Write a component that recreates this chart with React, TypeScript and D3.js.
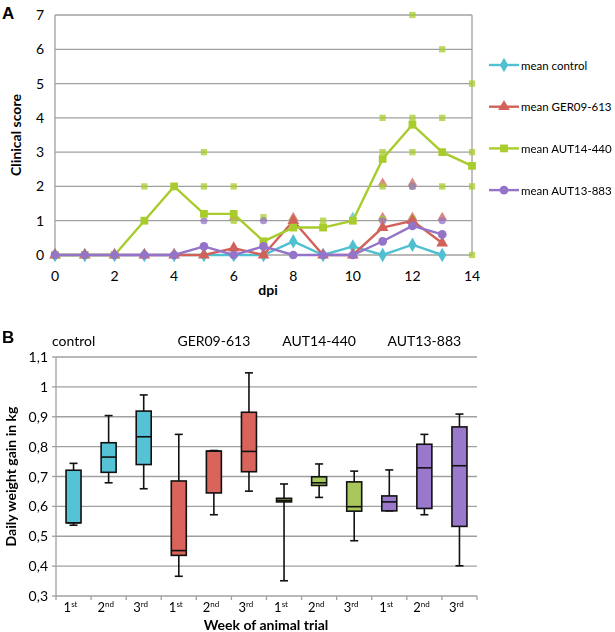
import React from 'react';
import * as d3 from 'd3';

// ---- panel A: clinical score per dpi ----
const days = d3.range(0, 15);
const meanControl = [0, 0, 0, 0, 0, 0, 0, 0, 0.4, 0, 0.25, 0, 0.3, 0];
const meanGER = [0, 0, 0, 0, 0, 0, 0.2, 0, 1.0, 0, 0, 0.8, 1.0, 0.35];
const meanAUT14 = [0, 0, 0, 1, 2, 1.2, 1.2, 0.4, 0.8, 0.8, 1.0, 2.8, 3.8, 3.0, 2.6];
const meanAUT13 = [0, 0, 0, 0, 0, 0.25, 0, 0.25, 0, 0, 0, 0.4, 0.85, 0.6];

// single animals (day, score), only the non-zero ones
const indControl = [[10, 1.1], [8, 0.9], [12, 1]];
const indGER = [[6, 1.1], [8, 1.1], [11, 2.1], [11, 1.1], [12, 2.1], [12, 1.1], [13, 1.1]];
const indAUT14 = [[3, 2], [3, 1], [4, 2], [5, 3], [5, 2], [5, 1.2], [6, 2], [6, 1], [7, 1.1], [8, 1], [9, 1], [10, 1],
  [11, 4], [11, 3], [11, 2], [11, 1.05], [12, 7], [12, 4], [12, 3], [12, 2], [12, 1.05], [13, 6], [13, 4], [13, 3], [13, 2],
  [14, 5], [14, 3], [14, 2], [14, 0]];
const indAUT13 = [[5, 1], [7, 1], [11, 1], [12, 2], [12, 1], [13, 1]];

const seriesNames = ['mean control', 'mean GER09-613', 'mean AUT14-440', 'mean AUT13-883'];
const lineColors = ['#4fc0d2', '#d2615a', '#a8cc2c', '#9474c9'];
const markerTypes = [d3.symbolDiamond, d3.symbolTriangle, d3.symbolSquare, d3.symbolCircle];

// ---- panel B: daily weight gain boxes ----
const groups = ['control', 'GER09-613', 'AUT14-440', 'AUT13-883'];
const weeks = ['1', '2', '3'];
const weekSup = ['st', 'nd', 'rd'];
// [whisker low, q1, median, q3, whisker high]
const boxControl = [[0.537, 0.545, 0.545, 0.721, 0.744], [0.679, 0.714, 0.765, 0.813, 0.904], [0.659, 0.740, 0.833, 0.919, 0.973]];
const boxGER = [[0.366, 0.436, 0.452, 0.685, 0.841], [0.572, 0.645, 0.785, 0.785, 0.787], [0.651, 0.716, 0.784, 0.915, 1.047]];
const boxAUT14 = [[0.351, 0.615, 0.620, 0.627, 0.675], [0.630, 0.670, 0.679, 0.699, 0.742], [0.485, 0.584, 0.599, 0.682, 0.718]];
const boxAUT13 = [[0.585, 0.585, 0.615, 0.635, 0.722], [0.572, 0.593, 0.729, 0.808, 0.841], [0.401, 0.533, 0.736, 0.866, 0.909]];
const boxColors = ['#55c2d6', '#d8645c', '#a9c75c', '#9a78cc'];
const yTicksB = [0.3, 0.4, 0.5, 0.6, 0.7, 0.8, 0.9, 1.0, 1.1];

const font = 'Lato, "Open Sans", sans-serif';
const grid = '#a0a0a0';

export default function App() {
  const xA = d3.scaleLinear().domain([0, 14]).range([55, 472]);
  const yA = d3.scaleLinear().domain([0, 7]).range([255, 15]);
  const means = [meanControl, meanGER, meanAUT14, meanAUT13];
  const inds = [indControl, indGER, indAUT14, indAUT13];
  const line = d3.line<number>().x((d, i) => xA(i)).y(d => yA(d));
  const sym = (i: number, size: number) => d3.symbol().type(markerTypes[i]).size(size)()!;

  const cats = groups.flatMap(g => weeks.map(w => g + w));
  const xB = d3.scaleBand().domain(cats).range([56, 477]);
  const yB = d3.scaleLinear().domain([0.3, 1.1]).range([596, 357]);
  const boxes = [boxControl, boxGER, boxAUT14, boxAUT13];
  const fmt = (v: number) => (Math.round(v * 10) / 10).toString().replace('.', ',');

  return (
    <svg width={615} height={632} style={{ position: 'absolute', left: 0, top: 0 }} fontFamily={font}>
      <rect width={615} height={632} fill="#fff" />
      {/* ----- A ----- */}
      <text x={2} y={19} fontSize={17} fontWeight="bold" fontFamily="Liberation Sans, Arial">A</text>
      {d3.range(1, 8).map(v => (
        <line key={v} x1={xA(0)} x2={xA(14)} y1={yA(v)} y2={yA(v)} stroke={grid} strokeWidth={1.3} />
      ))}
      <line x1={xA(0)} x2={xA(14)} y1={yA(0)} y2={yA(0)} stroke={grid} strokeWidth={1.3} />
      <line x1={xA(0)} x2={xA(0)} y1={yA(0)} y2={yA(7)} stroke={grid} strokeWidth={1.3} />
      <line x1={xA(14)} x2={xA(14)} y1={yA(0)} y2={yA(7)} stroke={grid} strokeWidth={1.3} />
      {d3.range(0, 8).map(v => (
        <text key={v} x={44} y={yA(v) + 5} fontSize={14} textAnchor="end">{v}</text>
      ))}
      {days.filter(d => d % 2 === 0).map(d => (
        <text key={d} x={xA(d)} y={281} fontSize={14} textAnchor="middle">{d}</text>
      ))}
      <text x={268} y={295} fontSize={14} fontWeight="bold" textAnchor="middle">dpi</text>
      <text transform={`translate(21,${yA(3.5)}) rotate(-90)`} fontSize={14} fontWeight="bold" textAnchor="middle">Clinical score</text>

      {inds.map((pts, i) => (
        <g key={i} opacity={0.75}>
          {pts.map((p, j) => (
            <path key={j} d={sym(i, 40)} transform={`translate(${xA(p[0])},${yA(p[1])})`} fill={lineColors[i]} />
          ))}
        </g>
      ))}
      {means.map((m, i) => (
        <g key={i}>
          <path d={line(m)!} fill="none" stroke={lineColors[i]} strokeWidth={2.4} />
          {m.map((v, j) => (
            <path key={j} d={sym(i, 60)} transform={`translate(${xA(j)},${yA(v)})`} fill={lineColors[i]} />
          ))}
        </g>
      ))}
      {seriesNames.map((s, i) => {
        const ly = 65 + i * 41.7;
        return (
          <g key={s}>
            <line x1={489} x2={519} y1={ly} y2={ly} stroke={lineColors[i]} strokeWidth={2.4} />
            <path d={sym(i, 60)} transform={`translate(504,${ly})`} fill={lineColors[i]} />
            <text x={521} y={ly + 4.5} fontSize={11.5}>{s}</text>
          </g>
        );
      })}

      {/* ----- B ----- */}
      <text x={2} y={343} fontSize={17} fontWeight="bold" fontFamily="Liberation Sans, Arial">B</text>
      {groups.map((g, i) => (
        <text key={g} x={i === 0 ? 52 : xB(g + '2')! + xB.bandwidth() / 2} y={346} fontSize={14}
          textAnchor={i === 0 ? 'start' : 'middle'}>{g}</text>
      ))}
      {yTicksB.slice(1).map(v => (
        <line key={v} x1={56} x2={477} y1={yB(v)} y2={yB(v)} stroke={grid} strokeWidth={1.3} />
      ))}
      <line x1={56} x2={477} y1={yB(0.3)} y2={yB(0.3)} stroke={grid} strokeWidth={1.3} />
      <line x1={56} x2={56} y1={yB(0.3)} y2={yB(1.1)} stroke={grid} strokeWidth={1.3} />
      {yTicksB.map(v => (
        <g key={v}>
          <line x1={52} x2={56} y1={yB(v)} y2={yB(v)} stroke={grid} strokeWidth={1.3} />
          <text x={48} y={yB(v) + 5} fontSize={14} textAnchor="end">{fmt(v)}</text>
        </g>
      ))}
      {cats.map(c => (
        <line key={c} x1={xB(c)! + xB.bandwidth()} x2={xB(c)! + xB.bandwidth()} y1={yB(0.3)} y2={yB(0.3) + 4}
          stroke={grid} strokeWidth={1.3} />
      ))}
      <line x1={56} x2={56} y1={yB(0.3)} y2={yB(0.3) + 4} stroke={grid} strokeWidth={1.3} />
      {cats.map((c, k) => (
        <text key={c} x={xB(c)! + xB.bandwidth() / 2 - 3} y={612} fontSize={13} textAnchor="middle">
          {weeks[k % 3]}<tspan fontSize={8} dy={-5}>{weekSup[k % 3]}</tspan>
        </text>
      ))}
      <text x={266} y={630} fontSize={14} fontWeight="bold" textAnchor="middle">Week of animal trial</text>
      <text transform={`translate(16,${yB(0.7)}) rotate(-90)`} fontSize={14} fontWeight="bold" textAnchor="middle">Daily weight gain in kg</text>

      {boxes.map((bs, gi) => bs.map((b, wi) => {
        const c = groups[gi] + weeks[wi];
        const cx = xB(c)! + xB.bandwidth() / 2;
        const w = 15;
        return (
          <g key={c} stroke="#111" strokeWidth={1.6}>
            <line x1={cx} x2={cx} y1={yB(b[0])} y2={yB(b[4])} />
            <line x1={cx - 4} x2={cx + 4} y1={yB(b[0])} y2={yB(b[0])} />
            <line x1={cx - 4} x2={cx + 4} y1={yB(b[4])} y2={yB(b[4])} />
            <rect x={cx - w / 2} y={yB(b[3])} width={w} height={Math.max(yB(b[1]) - yB(b[3]), 1)} fill={boxColors[gi]} />
            <line x1={cx - w / 2} x2={cx + w / 2} y1={yB(b[2])} y2={yB(b[2])} />
          </g>
        );
      }))}
    </svg>
  );
}
